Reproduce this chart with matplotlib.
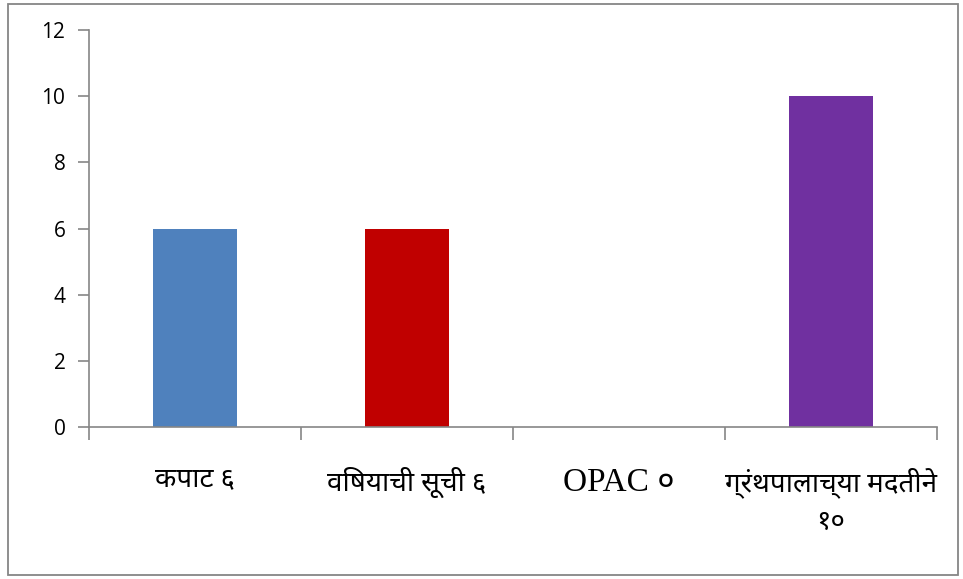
import matplotlib
matplotlib.use("Agg")
import matplotlib.pyplot as plt
from matplotlib.patches import Rectangle

categories = ["कपाट ६", "विषयाची सूची ६", "OPAC ०", "ग्रंथपालाच्या मदतीने\n१०"]
values = [6, 6, 0, 10]
colors = ["#4F81BD", "#C00000", "#8064A2", "#7030A0"]
yticks = [0, 2, 4, 6, 8, 10, 12]

label_family = ["Liberation Serif", "Noto Sans Devanagari", "DejaVu Sans"]

fig = plt.figure(figsize=(9.63, 5.79), dpi=100)
fig.patches.append(Rectangle((8/963, 4/579), 950/963, 571/579, transform=fig.transFigure,
                             fill=False, edgecolor="#868686", linewidth=1.3))
ax = fig.add_axes([89/963, 1-427/579, (937-89)/963, (427-30)/579])
x = range(len(categories))
ax.bar(x, values, width=0.4, color=colors)
ax.set_xlim(-0.5, len(categories)-0.5)
ax.set_ylim(0, 12)
ax.set_yticks(yticks)
ax.set_yticklabels([str(v) for v in yticks], fontsize=15, family=["Open Sans", "DejaVu Sans"])
ax.set_xticks(list(x))
ax.set_xticklabels(categories, fontsize=20, family=label_family, linespacing=1.6, va="top")
ax.get_xticklabels()[2].set_fontsize(24)
ax.set_xticks([i-0.5 for i in range(len(categories)+1)], minor=True)
ax.tick_params(axis="x", which="major", length=0, pad=29)
ax.tick_params(axis="x", which="minor", length=9, color="#868686", width=1.2)
ax.tick_params(axis="y", length=8, color="#868686", width=1.2, pad=9)
for s in ["top", "right"]:
    ax.spines[s].set_visible(False)
for s in ["left", "bottom"]:
    ax.spines[s].set_color("#868686")
    ax.spines[s].set_linewidth(1.2)
fig.savefig("out.png", dpi=100)
